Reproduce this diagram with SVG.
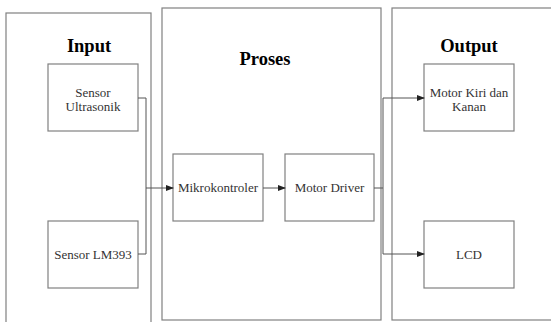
<svg xmlns="http://www.w3.org/2000/svg" width="551" height="322" viewBox="0 0 551 322">
<style>
.panel{fill:none;stroke:#808080;stroke-width:1.2}
.box{fill:#fff;stroke:#808080;stroke-width:1.2}
.title{font-family:'Liberation Serif','Times New Roman','DejaVu Serif',serif;font-weight:bold;font-size:18.5px;fill:#000;text-anchor:middle}
.lbl{font-family:'Liberation Serif','Times New Roman','DejaVu Serif',serif;font-size:13px;fill:#333;text-anchor:middle}
.conn{fill:none;stroke:#555;stroke-width:1}
</style>
<defs>
<marker id="arr" markerWidth="8" markerHeight="6" refX="7" refY="3" orient="auto" markerUnits="userSpaceOnUse">
<path d="M0,0 L8,3 L0,6 Z" fill="#222"/>
</marker>
</defs>
<rect width="551" height="322" fill="#fff"/>
<g id="panel-input">
<rect class="panel" x="6" y="13" width="145" height="320"/>
<text class="title" x="89" y="52">Input</text>
</g>
<g id="panel-proses">
<rect class="panel" x="162" y="8" width="219" height="312"/>
<text class="title" x="265" y="65">Proses</text>
</g>
<g id="panel-output">
<rect class="panel" x="392" y="8" width="170" height="312"/>
<text class="title" x="469" y="52">Output</text>
</g>
<g id="sensor-ultrasonik">
<rect class="box" x="48" y="64" width="90" height="67"/>
<text class="lbl" x="93" y="97">Sensor</text>
<text class="lbl" x="93" y="111">Ultrasonik</text>
</g>
<g id="sensor-lm393">
<rect class="box" x="48" y="221" width="90" height="67"/>
<text class="lbl" x="93" y="259">Sensor LM393</text>
</g>
<g id="mikrokontroler">
<rect class="box" x="173" y="154" width="90" height="67"/>
<text class="lbl" x="218" y="192">Mikrokontroler</text>
</g>
<g id="motor-driver">
<rect class="box" x="285" y="154" width="89" height="67"/>
<text class="lbl" x="329.5" y="192">Motor Driver</text>
</g>
<g id="motor-kiri-kanan">
<rect class="box" x="424" y="64" width="90" height="67"/>
<text class="lbl" x="469" y="97">Motor Kiri dan</text>
<text class="lbl" x="469" y="111">Kanan</text>
</g>
<g id="lcd">
<rect class="box" x="424" y="221" width="90" height="67"/>
<text class="lbl" x="469" y="259">LCD</text>
</g>
<g id="connectors">
<polyline class="conn" points="138,98 146,98 146,254 138,254"/>
<line class="conn" x1="146" y1="188" x2="173" y2="188" marker-end="url(#arr)"/>
<line class="conn" x1="263" y1="188" x2="285" y2="188" marker-end="url(#arr)"/>
<line class="conn" x1="374" y1="188" x2="383" y2="188"/>
<polyline class="conn" points="383,98 383,254"/>
<line class="conn" x1="383" y1="98" x2="424" y2="98" marker-end="url(#arr)"/>
<line class="conn" x1="383" y1="254" x2="424" y2="254" marker-end="url(#arr)"/>
</g>
</svg>
